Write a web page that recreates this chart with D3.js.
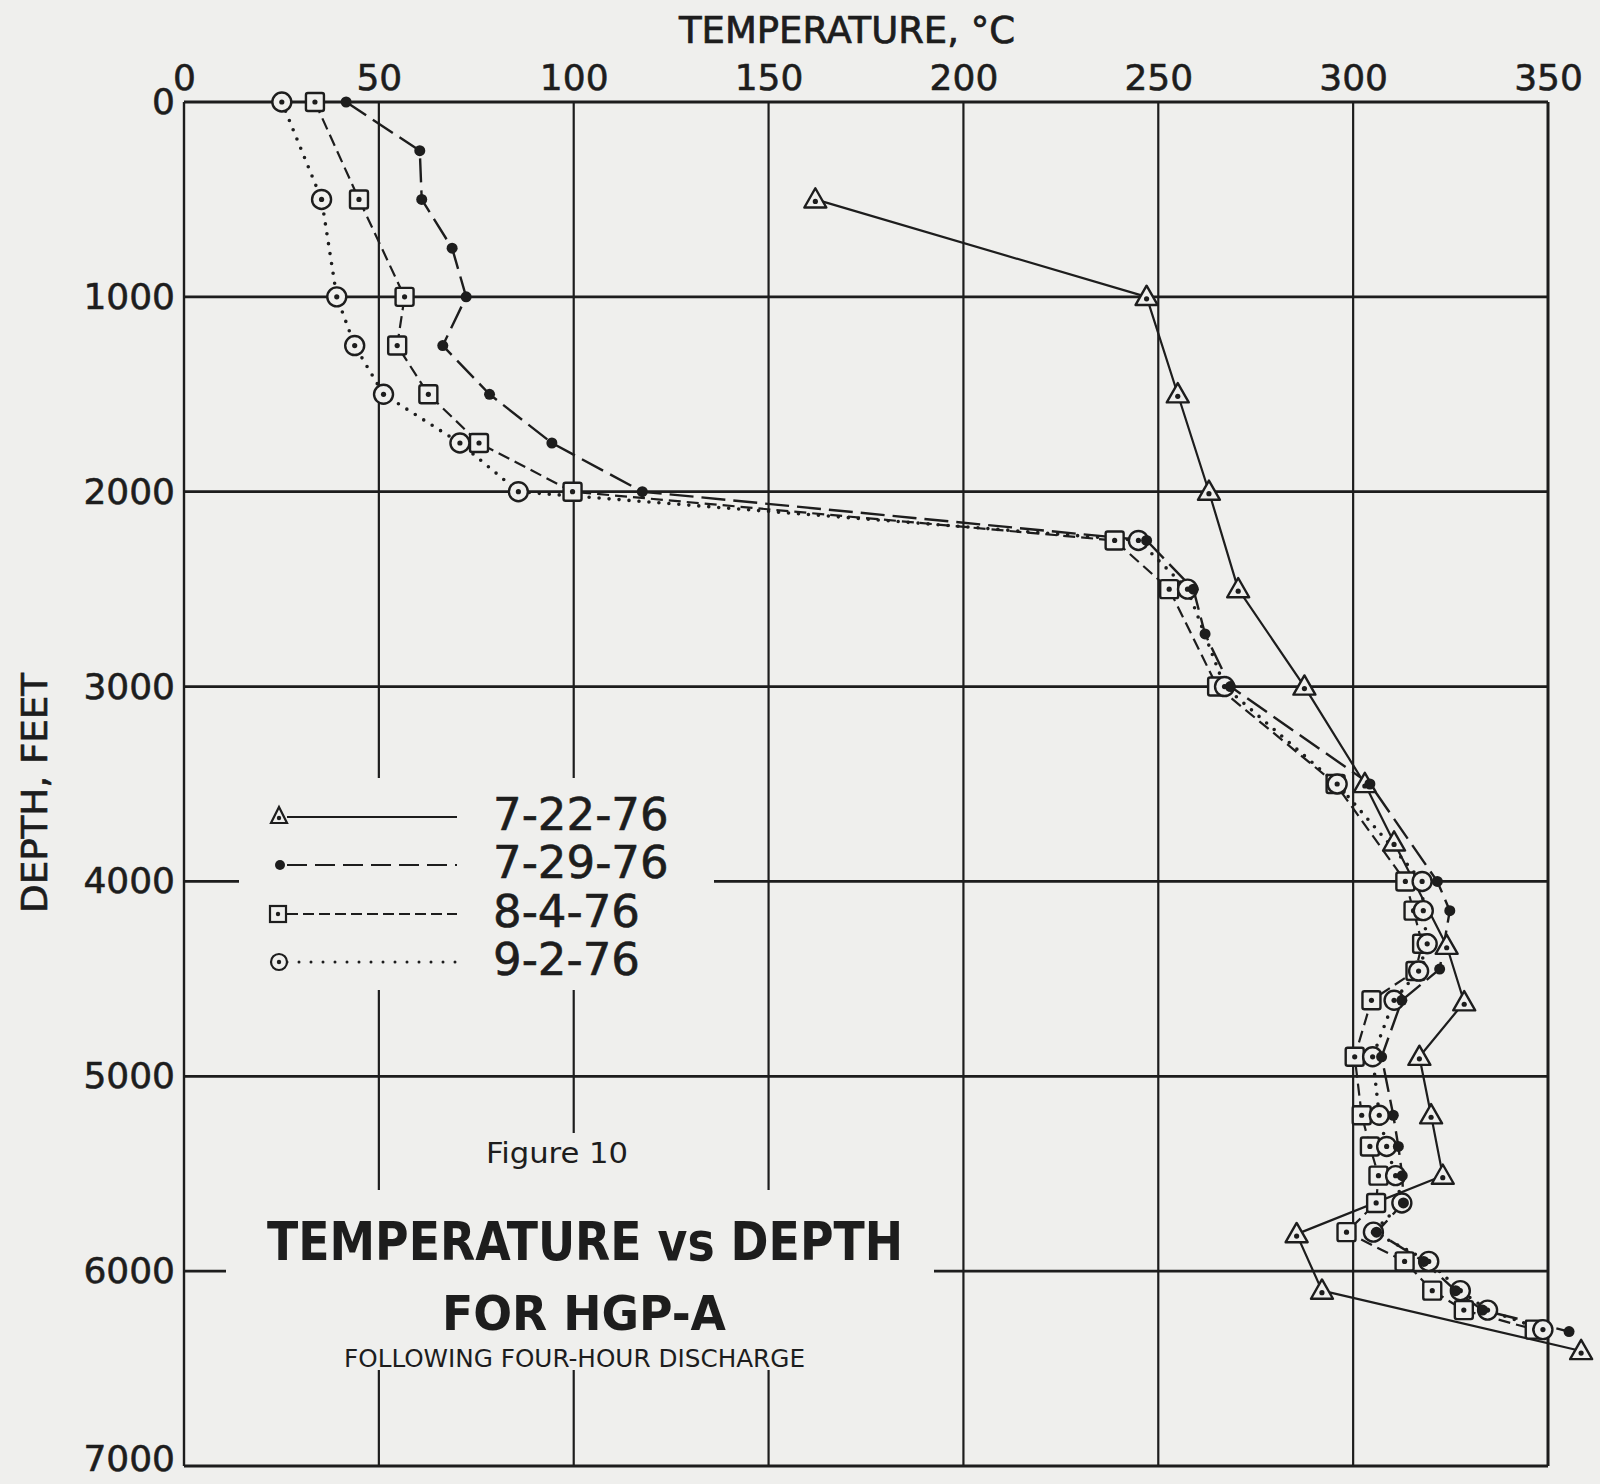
<!DOCTYPE html>
<html>
<head>
<meta charset="utf-8">
<script src="https://cdn.jsdelivr.net/npm/d3@7"></script>
<style>
  body { margin: 0; background: #efefed; }
  svg { display: block; }
</style>
</head>
<body>
<div id="chart"></div>
<script>
// --- data (depth in feet, temperature in deg C) ---
var seriesNames = ['7-22-76', '7-29-76', '8-4-76', '9-2-76'];

var depth0722 = [500, 1000, 1500, 2000, 2500, 3000, 3500, 3800, 4330, 4620, 4900, 5200, 5510, 5810, 6100, 6410];
var temp0722 = [162, 247, 255, 263, 270.5, 287.5, 303, 310.5, 324, 328.5, 317, 320, 323, 285.5, 292, 358.5];

var depth0729 = [0, 250, 500, 750, 1000, 1250, 1500, 1750, 2000, 2250, 2500, 2730, 3000, 3500, 4000, 4150, 4450, 4610, 4900, 5200, 5360, 5510, 5650, 5800, 5950, 6100, 6200, 6310];
var temp0729 = [41.6, 60.5, 61, 68.8, 72.4, 66.4, 78.4, 94.4, 117.6, 247, 259, 262, 268.5, 304.3, 321.6, 324.8, 322.2, 312.5, 307.3, 310.3, 311.6, 312.6, 312.9, 306, 318.1, 326.3, 333.2, 355.4];

var depth0804 = [0, 500, 1000, 1250, 1500, 1750, 2000, 2250, 2500, 3000, 3500, 4000, 4150, 4320, 4460, 4610, 4900, 5200, 5360, 5510, 5650, 5800, 5950, 6100, 6200, 6300];
var temp0804 = [33.6, 44.9, 56.6, 54.7, 62.7, 75.7, 99.7, 238.8, 252.8, 265.1, 295.5, 313.4, 315.5, 317.7, 316, 304.7, 300.4, 302.2, 304.3, 306.5, 305.9, 298.3, 313.2, 320.3, 328.4, 346.6];

var depth0902 = [0, 500, 1000, 1250, 1500, 1750, 2000, 2250, 2500, 3000, 3500, 4000, 4150, 4320, 4460, 4610, 4900, 5200, 5360, 5510, 5650, 5800, 5950, 6100, 6200, 6300];
var temp0902 = [25.1, 35.3, 39.2, 43.8, 51.2, 70.8, 85.8, 244.9, 257.5, 267, 295.9, 317.7, 318, 319, 316.8, 310.5, 305, 306.7, 308.6, 310.9, 312.5, 305.2, 319.4, 327.5, 334.5, 348.7];

var tempTicks = [0, 50, 100, 150, 200, 250, 300, 350];
var depthTicks = [0, 1000, 2000, 3000, 4000, 5000, 6000, 7000];

// --- layout ---
var width = 1600, height = 1484;
var ink = '#1d1d1d', paper = '#efefed';

var svg = d3.select('#chart')
    .append('svg')
    .attr('width', width)
    .attr('height', height)
    .style('background', paper);

var x = d3.scaleLinear().domain([0, 350]).range([184, 1548]);
var y = d3.scaleLinear().domain([0, 7000]).range([102, 1466]);

// gaps in the grid where the legend and title sit (pixels)
var vGaps = {50: [[778, 990], [1190, 1370]], 100: [[778, 990], [1133, 1370]], 150: [[1190, 1370]]};
var hGaps = {4000: [[239, 714]], 6000: [[226, 934]]};

function segments(a, b, gaps) {
    var out = [], start = a;
    (gaps || []).forEach(function (g) {
        out.push([start, g[0]]);
        start = g[1];
    });
    out.push([start, b]);
    return out;
}

var grid = svg.append('g').attr('stroke', ink).attr('fill', 'none');

tempTicks.forEach(function (t) {
    var edge = (t === 0 || t === 350);
    segments(y(0), y(7000), vGaps[t]).forEach(function (s) {
        grid.append('line')
            .attr('x1', x(t)).attr('x2', x(t))
            .attr('y1', s[0]).attr('y2', s[1])
            .attr('stroke-width', edge ? (t === 0 ? 2.4 : 3) : 2.2);
    });
});

depthTicks.forEach(function (d) {
    var edge = (d === 0 || d === 7000);
    segments(x(0), x(350), hGaps[d]).forEach(function (s) {
        grid.append('line')
            .attr('x1', s[0]).attr('x2', s[1])
            .attr('y1', y(d)).attr('y2', y(d))
            .attr('stroke-width', edge ? 3.2 : 2.8);
    });
});

// axes labels
var topAxis = svg.append('g')
    .attr('transform', 'translate(0,90)')
    .call(d3.axisTop(x).tickValues(tempTicks).tickSize(0).tickPadding(0).tickFormat(d3.format('d')));
var leftAxis = svg.append('g')
    .attr('transform', 'translate(175,0)')
    .call(d3.axisLeft(y).tickValues(depthTicks).tickSize(0).tickPadding(0).tickFormat(d3.format('d')));

[topAxis, leftAxis].forEach(function (a) {
    a.select('.domain').remove();
    a.selectAll('text')
        .attr('fill', ink)
        .attr('stroke', ink).attr('stroke-width', 0.6)
        .style('font-family', '"DejaVu Sans", sans-serif')
        .style('font-size', '36px');
});
// keep the bottom label inside the page
leftAxis.selectAll('text').filter(function (d) { return d === 7000; }).attr('dy', '0.12em');

svg.append('text')
    .attr('x', 679).attr('y', 43)
    .attr('textLength', 336).attr('lengthAdjust', 'spacingAndGlyphs')
    .attr('fill', ink).attr('stroke', ink).attr('stroke-width', 0.7)
    .style('font-family', '"DejaVu Sans Condensed", "DejaVu Sans", sans-serif')
    .style('font-size', '38px')
    .text('TEMPERATURE, °C');

svg.append('text')
    .attr('transform', 'translate(47,793) rotate(-90)')
    .attr('text-anchor', 'middle')
    .attr('textLength', 240).attr('lengthAdjust', 'spacingAndGlyphs')
    .attr('fill', ink).attr('stroke', ink).attr('stroke-width', 0.6)
    .style('font-family', '"DejaVu Sans Condensed", "DejaVu Sans", sans-serif')
    .style('font-size', '36px')
    .text('DEPTH, FEET');

// --- series ---
var series = [
    {name: seriesNames[0], depth: depth0722, temp: temp0722, marker: 'tri', dash: null, w: 2.2, cap: 'butt'},
    {name: seriesNames[1], depth: depth0729, temp: temp0729, marker: 'dot', dash: '24,8', w: 2.4, cap: 'butt'},
    {name: seriesNames[2], depth: depth0804, temp: temp0804, marker: 'sq', dash: '12,6', w: 2.2, cap: 'butt'},
    {name: seriesNames[3], depth: depth0902, temp: temp0902, marker: 'circ', dash: '0,10', w: 3.6, cap: 'round'}
];

var line = d3.line()
    .x(function (p) { return x(p[1]); })
    .y(function (p) { return y(p[0]); });

series.forEach(function (s) {
    s.points = s.depth.map(function (d, i) { return [d, s.temp[i]]; });
    svg.append('path')
        .datum(s.points)
        .attr('d', line)
        .attr('fill', 'none')
        .attr('stroke', ink)
        .attr('stroke-width', s.w)
        .attr('stroke-dasharray', s.dash)
        .attr('stroke-linecap', s.cap)
        .attr('stroke-linejoin', 'round');
});

function drawMarker(g, type, cx, cy) {
    if (type === 'tri') {
        var h = 18;
        g.append('path')
            .attr('d', 'M' + cx + ',' + (cy - h * 0.62) + 'L' + (cx + 11) + ',' + (cy + h * 0.45) + 'L' + (cx - 11) + ',' + (cy + h * 0.45) + 'Z')
            .attr('fill', paper).attr('stroke', ink).attr('stroke-width', 2.4).attr('stroke-linejoin', 'round');
        g.append('circle').attr('cx', cx).attr('cy', cy + 2).attr('r', 2.6).attr('fill', ink);
    } else if (type === 'dot') {
        g.append('circle').attr('cx', cx).attr('cy', cy).attr('r', 5.5).attr('fill', ink);
    } else if (type === 'sq') {
        g.append('rect')
            .attr('x', cx - 9).attr('y', cy - 9).attr('width', 18).attr('height', 18).attr('rx', 2)
            .attr('fill', paper).attr('stroke', ink).attr('stroke-width', 2.4);
        g.append('circle').attr('cx', cx).attr('cy', cy).attr('r', 2.6).attr('fill', ink);
    } else {
        g.append('circle').attr('cx', cx).attr('cy', cy).attr('r', 9.5)
            .attr('fill', paper).attr('stroke', ink).attr('stroke-width', 2.4);
        g.append('circle').attr('cx', cx).attr('cy', cy).attr('r', 2.6).attr('fill', ink);
    }
}

var markerOrder = [2, 3, 0, 1];
markerOrder.forEach(function (k) {
    var s = series[k];
    var g = svg.append('g');
    s.points.forEach(function (p) {
        drawMarker(g, s.marker, x(p[1]), y(p[0]));
    });
});

// --- legend ---
var legendRows = [830, 878, 927, 975];
var legend = svg.append('g');
series.forEach(function (s, i) {
    var ly = legendRows[i] - 13;
    legend.append('line')
        .attr('x1', 287).attr('x2', 457)
        .attr('y1', ly).attr('y2', ly)
        .attr('stroke', ink)
        .attr('stroke-width', s.marker === 'circ' ? 3 : 2)
        .attr('stroke-dasharray', s.marker === 'dot' ? '20,8' : s.marker === 'sq' ? '11,5' : s.marker === 'circ' ? '0,12' : null)
        .attr('stroke-linecap', s.cap);
    var lg = legend.append('g');
    if (s.marker === 'tri') {
        lg.append('path')
            .attr('d', 'M279,' + (ly - 10) + 'L287,' + (ly + 6) + 'L271,' + (ly + 6) + 'Z')
            .attr('fill', paper).attr('stroke', ink).attr('stroke-width', 2.2);
        lg.append('circle').attr('cx', 279).attr('cy', ly + 1).attr('r', 2.2).attr('fill', ink);
    } else if (s.marker === 'dot') {
        lg.append('circle').attr('cx', 280).attr('cy', ly).attr('r', 5).attr('fill', ink);
    } else if (s.marker === 'sq') {
        lg.append('rect').attr('x', 270).attr('y', ly - 8).attr('width', 16).attr('height', 16)
            .attr('fill', paper).attr('stroke', ink).attr('stroke-width', 2.2);
        lg.append('circle').attr('cx', 278).attr('cy', ly).attr('r', 2.2).attr('fill', ink);
    } else {
        lg.append('circle').attr('cx', 279).attr('cy', ly).attr('r', 8)
            .attr('fill', paper).attr('stroke', ink).attr('stroke-width', 2.2);
        lg.append('circle').attr('cx', 279).attr('cy', ly).attr('r', 2.2).attr('fill', ink);
    }
    legend.append('text')
        .attr('x', 493).attr('y', legendRows[i])
        .attr('fill', ink).attr('stroke', ink).attr('stroke-width', 0.6)
        .style('font-family', '"DejaVu Sans", sans-serif')
        .style('font-size', '45px')
        .text(s.name);
});

// --- captions ---
function caption(txt, x0, base, len, size, family, weight) {
    svg.append('text')
        .attr('x', x0).attr('y', base)
        .attr('textLength', len).attr('lengthAdjust', 'spacingAndGlyphs')
        .attr('fill', ink)
        .style('font-family', family)
        .style('font-weight', weight || 'normal')
        .style('font-size', size + 'px')
        .text(txt);
}
var cond = '"DejaVu Sans Condensed", "DejaVu Sans", sans-serif';
var narrow = '"Liberation Sans Narrow", "DejaVu Sans Condensed", sans-serif';
caption('Figure 10', 486, 1163, 142, 28, narrow);
caption('TEMPERATURE vs DEPTH', 267, 1260, 636, 54, cond, 'bold');
caption('FOR HGP-A', 442, 1330, 284, 48, cond, 'bold');
caption('FOLLOWING FOUR-HOUR DISCHARGE', 344, 1367, 461, 25, narrow);
</script>
</body>
</html>
